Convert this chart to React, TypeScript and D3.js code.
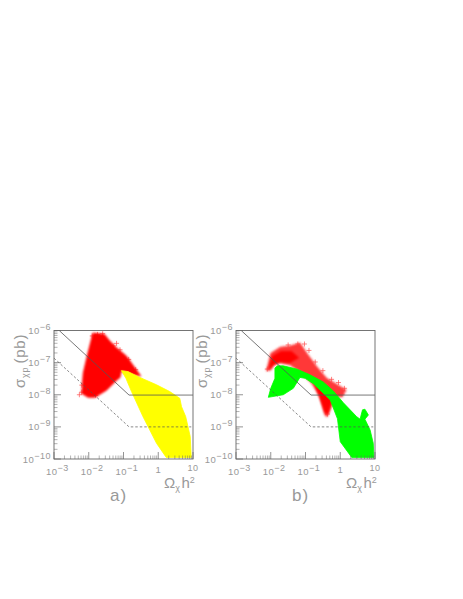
import React from "react";
import * as d3 from "d3";

type P = [number, number];

// all values are [log10 Omega h^2, log10 sigma]
const redA: P[] = [[-1.88,-6.08],[-1.55,-6.12],[-1.4,-6.32],[-1.22,-6.52],[-0.92,-6.79],[-0.74,-7.06],[-0.5,-7.42],[-0.72,-7.38],[-1.06,-7.25],[-1.1,-7.46],[-1.2,-7.55],[-1.49,-7.86],[-1.82,-8.08],[-2.02,-8.08],[-2.2,-7.96],[-2.16,-7.33],[-2.05,-6.81]];
const yellowA: P[] = [[-1.06,-7.25],[-0.87,-7.28],[-0.53,-7.46],[-0.05,-7.69],[0.33,-7.9],[0.62,-8.11],[0.67,-8.37],[0.79,-8.68],[0.92,-9.3],[0.95,-9.95],[0.23,-9.95],[-0.05,-9.51],[-0.44,-8.68],[-0.77,-7.9],[-0.93,-7.49]];
const redSparseB: P[] = [[-2.12,-7.25],[-2,-6.71],[-1.73,-6.52],[-1.44,-6.48],[-1.16,-6.39],[-0.96,-6.71],[-0.68,-7.12],[-0.39,-7.49],[-0.08,-7.69],[0.17,-7.85],[0.05,-8.07],[-0.15,-8.04],[-0.24,-8.32],[-0.38,-8.69],[-0.44,-8.63],[-0.58,-8.07],[-0.82,-7.64],[-1.16,-7.28],[-1.45,-7.07],[-1.73,-7],[-1.9,-7.07],[-2,-7.23]];
const redDenseB: P[] = [[-2.05,-7.2],[-1.95,-6.8],[-1.7,-6.65],[-1.4,-6.65],[-1.2,-6.85],[-1.45,-7],[-1.73,-6.97],[-1.92,-7.05]];
const redTailB: P[] = [[-0.75,-7.6],[-0.45,-7.75],[-0.25,-8.2],[-0.36,-8.6],[-0.44,-8.55],[-0.6,-8.05]];
const greenB: P[] = [[-1.88,-7.17],[-1.81,-7.1],[-1.64,-7.1],[-1.25,-7.2],[-0.87,-7.38],[-0.49,-7.6],[-0.2,-7.88],[0.09,-8.25],[0.47,-8.68],[0.57,-8.76],[0.64,-8.47],[0.71,-8.45],[0.81,-8.63],[0.71,-8.76],[0.86,-9.1],[0.95,-9.51],[0.97,-9.95],[0.33,-9.95],[0,-9.46],[-0.08,-8.75],[-0.29,-8.16],[-0.77,-7.66],[-1.01,-7.49],[-1.16,-7.46],[-1.35,-7.8],[-1.64,-8],[-2.07,-8.08],[-2,-7.8],[-1.88,-7.49]];
const crossesA: P[] = [[-1.2,-6.4],[-2.2,-7.92],[-2.27,-8],[-1.8,-8.02],[-1.75,-6.12],[-1.6,-6.1],[-1.9,-6.17],[-1.1,-6.6],[-2.2,-7.7],[-1.3,-6.48],[-0.85,-6.9],[-0.65,-7.22]];
const crossesB: P[] = [[-1.03,-6.42],[-1.22,-6.42],[-0.9,-6.62],[-0.72,-6.98],[-0.5,-7.25],[-0.25,-7.52],[0.12,-7.8],[-0.05,-7.62],[-0.37,-8.6],[-2.1,-7.2],[-1.5,-6.45],[0.05,-7.98]];
const boundSolid: P[] = [[-2.85,-6],[-0.84,-8.01],[1,-8.01]];
const boundDashed: P[] = [[-3,-6.86],[-0.84,-9],[0.95,-9]];
const xDecades = [-3, -2, -1, 0, 1];
const yDecades = [-10, -9, -8, -7, -6];
const minorMultipliers = [2, 3, 4, 5, 6, 7, 8, 9];

const TEXT = "#999";
const AXIS = "#666";
const FONT = "'Liberation Sans', Arial, sans-serif";

type Region = { pts: P[]; fill: string; soft?: boolean };

function Panel({ left, regions, crosses, label }: { left: number; regions: Region[]; crosses: P[]; label: string }) {
  const x = d3.scaleLinear().domain([-3, 1]).range([left, left + 139]);
  const y = d3.scaleLinear().domain([-10, -6]).range([459, 330.5]);
  const path = d3.line<P>().x((d) => x(d[0])).y((d) => y(d[1]));
  const xMinor = xDecades.slice(0, -1).flatMap((d) => minorMultipliers.map((m) => d + Math.log10(m)));
  const yMinor = yDecades.slice(0, -1).flatMap((d) => minorMultipliers.map((m) => d + Math.log10(m)));
  return (
    <g fontFamily={FONT} fill={TEXT}>
      {crosses.map((c, i) => (
        <path key={i} d={`M${x(c[0]) - 2.5},${y(c[1])}h5M${x(c[0])},${y(c[1]) - 2.5}v5`} stroke="#ff5050" strokeWidth={0.7} fill="none" />
      ))}
      {regions.map((r, i) => (
        <path key={i} d={path(r.pts) + "Z"} fill={r.fill} stroke={r.fill} strokeWidth={0.8} strokeLinejoin="round" filter={r.soft ? "url(#soft)" : undefined} />
      ))}
      <path d={path(boundSolid)!} fill="none" stroke="#555" strokeWidth={0.8} />
      <path d={path(boundDashed)!} fill="none" stroke="#555" strokeWidth={0.7} strokeDasharray="2.5 2" />
      <rect x={left} y={330.5} width={139} height={128.5} fill="none" stroke={AXIS} strokeWidth={0.9} />
      {xDecades.map((d) => <line key={d} x1={x(d)} x2={x(d)} y1={459} y2={452} stroke={AXIS} strokeWidth={0.7} />)}
      {xMinor.map((d, i) => <line key={i} x1={x(d)} x2={x(d)} y1={459} y2={455.5} stroke={AXIS} strokeWidth={0.5} />)}
      {yDecades.map((d) => <line key={d} x1={left} x2={left + 7} y1={y(d)} y2={y(d)} stroke={AXIS} strokeWidth={0.7} />)}
      {yMinor.map((d, i) => <line key={i} x1={left} x2={left + 3.5} y1={y(d)} y2={y(d)} stroke={AXIS} strokeWidth={0.5} />)}
      {yDecades.map((d) => (
        <text key={d} x={left - 3} y={y(d) + 3.5} fontSize={9.5} textAnchor="end" letterSpacing={0.5}>
          10<tspan dy={-4} fontSize={9}>{"\u2212" + Math.abs(d)}</tspan>
        </text>
      ))}
      {xDecades.map((d) => {
        if (d === 0) return <text key={d} x={x(d)} y={473} fontSize={9.5} textAnchor="middle">1</text>;
        if (d === 1) return <text key={d} x={x(d)} y={471} fontSize={9} textAnchor="middle" letterSpacing={0.5}>10</text>;
        return (
          <text key={d} x={x(d) - 8} y={475} fontSize={9.5} letterSpacing={0.5}>
            10<tspan dy={-4} fontSize={9}>{"\u2212" + Math.abs(d)}</tspan>
          </text>
        );
      })}
      <text x={left + 110} y={488} fontSize={15}>
        Ω<tspan dy={3} fontSize={9}>χ</tspan><tspan dy={-3} dx={1.5}>h</tspan><tspan dy={-5} fontSize={9}>2</tspan>
      </text>
      <text x={left + 56} y={501} fontSize={17} letterSpacing={1}>{label}</text>
      <text transform={`translate(${left - 29},388) rotate(-90)`} fontSize={15} letterSpacing={0.8}>
        σ<tspan dy={3} fontSize={9}>χp</tspan><tspan dy={-3} dx={3}>(pb)</tspan>
      </text>
    </g>
  );
}

export default function App() {
  return (
    <svg width={463} height={599} style={{ position: "absolute", left: 0, top: 0, background: "#fff" }}>
      <defs>
        <filter id="soft" x="-10%" y="-10%" width="120%" height="120%">
          <feGaussianBlur stdDeviation={0.9} />
        </filter>
      </defs>
      <Panel left={54} regions={[{ pts: redA, fill: "#ff0000", soft: true }, { pts: yellowA, fill: "#ffff00" }]} crosses={crossesA} label="a)" />
      <Panel left={236} regions={[{ pts: redSparseB, fill: "#ff3838", soft: true }, { pts: redDenseB, fill: "#ff0000", soft: true }, { pts: redTailB, fill: "#ff0000", soft: true }, { pts: greenB, fill: "#00ff00" }]} crosses={crossesB} label="b)" />
    </svg>
  );
}
